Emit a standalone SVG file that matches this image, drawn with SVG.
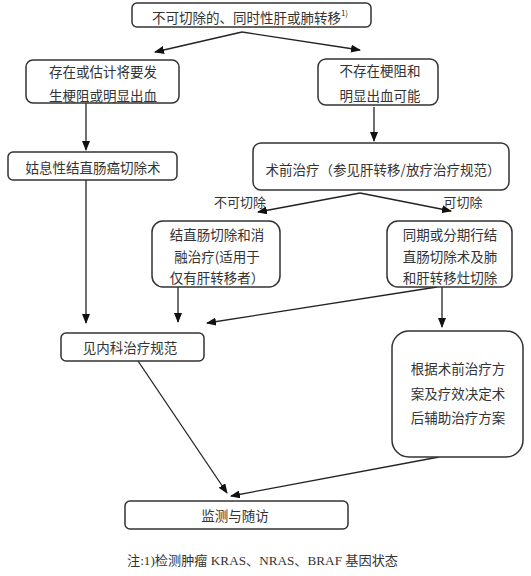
<svg xmlns="http://www.w3.org/2000/svg" width="531" height="576" viewBox="0 0 531 576">
<defs>
<marker id="ah" markerWidth="10" markerHeight="8" refX="9" refY="4" orient="auto" markerUnits="userSpaceOnUse">
<path d="M0,0 L10,4 L0,8 Z" fill="#111"/>
</marker>
<style>
.box{fill:#fff;stroke:#333;stroke-width:1.5}
.t{font-family:"Noto Sans CJK SC","Noto Sans",sans-serif;font-size:13.5px;fill:#333;text-anchor:middle;dominant-baseline:central}
.lbl{font-family:"Noto Sans CJK SC","Noto Sans",sans-serif;font-size:13px;fill:#333;text-anchor:middle;dominant-baseline:central}
.c{fill:none;stroke:#222;stroke-width:1.3;marker-end:url(#ah)}
.note{font-family:"Liberation Serif","Noto Sans CJK SC",serif;font-size:13px;fill:#333;dominant-baseline:central}
</style>
</defs>
<rect width="531" height="576" fill="#fff"/>
<g id="connectors">
<line class="c" x1="242" y1="32" x2="155" y2="52"/>
<line class="c" x1="242" y1="32" x2="360" y2="50"/>
<line class="c" x1="86" y1="103" x2="86" y2="150"/>
<line class="c" x1="374" y1="107" x2="374" y2="141"/>
<line class="c" x1="86" y1="180" x2="86" y2="323"/>
<line class="c" x1="360" y1="193" x2="258" y2="212"/>
<line class="c" x1="360" y1="193" x2="451" y2="211"/>
<line class="c" x1="178" y1="287" x2="178" y2="322"/>
<line class="c" x1="437" y1="287" x2="207" y2="323"/>
<line class="c" x1="442" y1="287" x2="442" y2="327"/>
<line class="c" x1="138" y1="361" x2="227" y2="493"/>
<line class="c" x1="439" y1="457" x2="231" y2="496"/>
<text class="lbl" x="240" y="201">不可切除</text>
<text class="lbl" x="463" y="201">可切除</text>
</g>
<g id="n1">
<rect class="box" x="132" y="3" width="239" height="24" rx="5"/>
<text class="t" x="250" y="17">不可切除的、同时性肝或肺转移<tspan font-size="8" dy="-5">1)</tspan></text>
</g>
<g id="n2">
<rect class="box" x="26" y="60" width="153" height="43" rx="7"/>
<text class="t" x="103" y="71">存在或估计将要发</text>
<text class="t" x="103" y="95">生梗阻或明显出血</text>
</g>
<g id="n3">
<rect class="box" x="318" y="59" width="120" height="46" rx="8"/>
<text class="t" x="380" y="70">不存在梗阻和</text>
<text class="t" x="380" y="95">明显出血可能</text>
</g>
<g id="n4">
<rect class="box" x="8" y="152" width="169" height="28" rx="5"/>
<text class="t" x="93" y="167">姑息性结直肠癌切除术</text>
</g>
<g id="n5">
<rect class="box" x="253" y="143" width="256" height="47" rx="8"/>
<text class="t" x="383" y="169" font-size="13">术前治疗（参见肝转移/放疗治疗规范）</text>
</g>
<g id="n6">
<rect class="box" x="152" y="221" width="128" height="66" rx="11"/>
<text class="t" x="217" y="234">结直肠切除和消</text>
<text class="t" x="217" y="256">融治疗(适用于</text>
<text class="t" x="217" y="277">仅有肝转移者）</text>
</g>
<g id="n7">
<rect class="box" x="387" y="221" width="125" height="66" rx="11"/>
<text class="t" x="450" y="234">同期或分期行结</text>
<text class="t" x="450" y="256">直肠切除术及肺</text>
<text class="t" x="450" y="277">和肝转移灶切除</text>
</g>
<g id="n8">
<rect class="box" x="61" y="333" width="143" height="28" rx="5"/>
<text class="t" x="130" y="347">见内科治疗规范</text>
</g>
<g id="n9">
<rect class="box" x="392" y="331" width="131" height="126" rx="17"/>
<text class="t" x="458" y="368">根据术前治疗方</text>
<text class="t" x="458" y="393">案及疗效决定术</text>
<text class="t" x="458" y="417">后辅助治疗方案</text>
</g>
<g id="n10">
<rect class="box" x="125" y="501" width="223" height="28" rx="5"/>
<text class="t" x="235" y="515">监测与随访</text>
</g>
<text class="note" x="127" y="560" textLength="271" lengthAdjust="spacingAndGlyphs">注:1)检测肿瘤 KRAS、NRAS、BRAF 基因状态</text>
</svg>
